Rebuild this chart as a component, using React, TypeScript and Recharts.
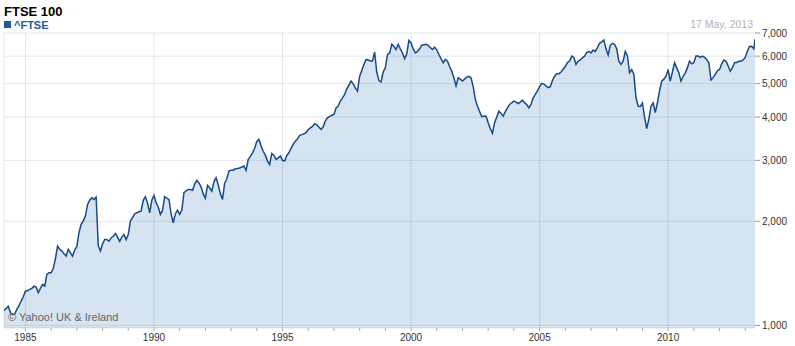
import { AreaChart, Area, XAxis, YAxis, CartesianGrid, ReferenceLine } from 'recharts'

// FTSE 100 month-end closes. First value is end of Feb 1984.
const startYear = 1984
const startMonth = 2

const closes1984to1989 = [
  1105, 1120, 1137, 1088, 1076, 1080, 1112, 1140, 1176, 1210, 1256,
  1260, 1271, 1280, 1299, 1290, 1243, 1280, 1314, 1299, 1404, 1420, 1420,
  1460, 1560, 1694, 1660, 1640, 1610, 1586, 1659, 1620, 1586, 1650, 1690,
  1853, 1960, 2003, 2070, 2237, 2300, 2337, 2313, 2349, 1700, 1640, 1720,
  1771, 1771, 1751, 1790, 1810, 1844, 1800, 1751, 1800, 1830, 1771, 1830,
  2003, 2050, 2100, 2115, 2130, 2139, 2300, 2355, 2260, 2115, 2300, 2374,
]

const closes1990s = [
  2260, 2200, 2093, 2150, 2355, 2330, 2313, 2100, 1980, 2100, 2153, 2093,
  2150, 2420, 2450, 2470, 2470, 2458, 2560, 2625, 2580, 2512, 2400, 2330,
  2540, 2500, 2444, 2600, 2672, 2550, 2400, 2313, 2578, 2650, 2792, 2810,
  2810, 2836, 2840, 2850, 2870, 2888, 2804, 3020, 3080, 3153, 3250, 3400,
  3448, 3300, 3186, 3100, 2985, 2917, 3142, 3100, 3020, 3050, 3087, 3000,
  2985, 3100, 3153, 3250, 3340, 3408, 3460, 3542, 3560, 3580, 3604, 3680,
  3722, 3760, 3830, 3800, 3740, 3685, 3750, 3900, 3981, 4020, 4050, 4071,
  4250, 4302, 4450, 4548, 4650, 4826, 4950, 5083, 5000, 4850, 4759, 5250,
  5450, 5677, 5872, 5850, 5806, 5806, 6167, 5392, 5100, 5050, 5400, 5553,
  6067, 6128, 6495, 6400, 6272, 6495, 6300, 6128, 5902, 6100, 6663, 6550,
]

const closes2000s = [
  6300, 6128, 6193, 6300, 6453, 6470, 6495, 6450, 6350, 6272, 6370, 6250,
  6067, 5900, 5742, 5872, 5800, 5600, 5428, 5200, 4922, 5196, 5150, 5083,
  5150, 5220, 5250, 5196, 4900, 4500, 4302, 4150, 4009, 4020, 4025, 3853,
  3700, 3589, 3853, 4000, 4160, 4100, 4025, 4150, 4255, 4350, 4400, 4447,
  4420, 4379, 4420, 4478, 4395, 4350, 4255, 4350, 4548, 4650, 4759, 4900,
  5006, 4980, 4922, 4869, 4900, 5100, 5250, 5339, 5339, 5400, 5500, 5600,
  5750, 5806, 6002, 5950, 5677, 5806, 5850, 5935, 6000, 6150, 6193, 6128,
  6250, 6193, 6350, 6537, 6600, 6677, 6300, 6050, 6450, 6537, 6495, 6300,
  5806, 5677, 5800, 6193, 6000, 5372, 5489, 5317, 4548, 4302, 4286, 4395,
  4000, 3703, 3944, 4300, 4395, 4122, 4400, 4759, 5083, 5150, 5250, 5489,
]

const closes2010s = [
  5083, 5400, 5742, 5550, 5372, 5083, 5250, 5372, 5550, 5806, 5700, 5742,
  6002, 6002, 5950, 6002, 5950, 5872, 5742, 5117, 5200, 5317, 5450, 5489,
  5700, 5850, 5800, 5626, 5428, 5550, 5742, 5750, 5800, 5800, 5850, 5950,
  6200, 6411, 6400, 6302,
]

// last quote: 17 May 2013
const lastDate = 2013 + (4 + 17 / 31) / 12
const lastClose = 6723

const yTicks = [1000, 2000, 3000, 4000, 5000, 6000, 7000]
const yearTicks = [
  1985, 1986, 1987, 1988, 1989, 1990, 1991, 1992, 1993, 1994,
  1995, 1996, 1997, 1998, 1999, 2000, 2001, 2002, 2003, 2004,
  2005, 2006, 2007, 2008, 2009, 2010, 2011, 2012, 2013,
]
const labeledYears = [1985, 1990, 1995, 2000, 2005, 2010]

const monthly = [...closes1984to1989, ...closes1990s, ...closes2000s, ...closes2010s]
const data = monthly.map((close, i) => ({ t: startYear + (startMonth + i) / 12, close }))
data.push({ t: lastDate, close: lastClose })

const firstDate = data[0].t
const font = '"Liberation Sans", Arial, sans-serif'
const gridLine = 'rgba(30,70,120,0.13)'

const App = () => {
  return (
    <div style={{ position: 'absolute', left: 0, top: 0, width: 795, height: 346, fontFamily: font, background: '#fff' }}>
      <AreaChart
        width={795}
        height={346}
        data={data}
        margin={{ top: 33, right: 0, bottom: 0, left: 4 }}
      >
        <CartesianGrid stroke={gridLine} vertical={false} />
        <XAxis
          dataKey="t"
          type="number"
          domain={[firstDate, lastDate]}
          ticks={yearTicks}
          interval={0}
          tickFormatter={(y: number) => (labeledYears.includes(y) ? String(y) : '')}
          height={18}
          tickSize={3}
          tickMargin={3}
          axisLine={false}
          tickLine={{ stroke: '#aaa' }}
          tick={{ fontSize: 10, fill: '#333', fontFamily: font }}
          allowDataOverflow
        />
        <YAxis
          orientation="right"
          scale="log"
          type="number"
          domain={[983, 7000]}
          ticks={yTicks}
          interval={0}
          width={40}
          tickFormatter={(v: number) => v.toLocaleString('en-US')}
          tickSize={5}
          tickMargin={2}
          axisLine={false}
          tickLine={{ stroke: '#999' }}
          tick={{ fontSize: 10, fill: '#333', fontFamily: font }}
          allowDataOverflow
        />
        {[firstDate, ...labeledYears].map((y) => (
          <ReferenceLine key={y} x={y} stroke={gridLine} strokeWidth={1} />
        ))}
        <Area
          type="linear"
          dataKey="close"
          stroke="#174a87"
          strokeWidth={1.5}
          fill="#3377bb"
          fillOpacity={0.2}
          isAnimationActive={false}
          dot={false}
          activeDot={false}
        />
      </AreaChart>
      <svg width={795} height={346} style={{ position: 'absolute', left: 0, top: 0, pointerEvents: 'none' }}>
        <text x={4} y={15.5} fontSize={13} fontWeight="bold" fill="#000" fontFamily={font}>FTSE 100</text>
        <rect x={4} y={21} width={7} height={7} fill="#245b97" />
        <text x={14} y={28.5} fontSize={11} fontWeight="bold" fill="#245b97" fontFamily={font}>^FTSE</text>
        <text x={753} y={27.5} fontSize={10.5} fill="#b3b3b3" textAnchor="end" fontFamily={font}>17 May, 2013</text>
        <text x={8} y={321} fontSize={11} fill="#666" fontFamily={font}>© Yahoo! UK &amp; Ireland</text>
      </svg>
    </div>
  )
}

export default App
